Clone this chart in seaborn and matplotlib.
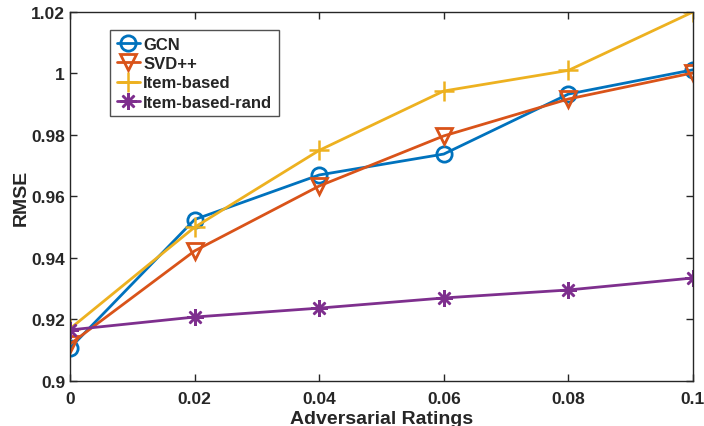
import matplotlib
matplotlib.use("Agg")
import matplotlib.pyplot as plt
import seaborn as sns
import pandas as pd

x_vals = [0, 0.02, 0.04, 0.06, 0.08, 0.1]
gcn = [0.9107, 0.9525, 0.9670, 0.9738, 0.9933, 1.0012]
svdpp = [0.9120, 0.9423, 0.9634, 0.9797, 0.9917, 1.0002]
item_based = [0.9170, 0.9500, 0.9750, 0.9943, 1.0010, 1.0200]
item_rand = [0.9166, 0.9208, 0.9237, 0.9270, 0.9296, 0.9335]
series_names = ["GCN", "SVD++", "Item-based", "Item-based-rand"]
x_ticks = [0, 0.02, 0.04, 0.06, 0.08, 0.1]
x_tick_labels = ["0", "0.02", "0.04", "0.06", "0.08", "0.1"]
y_ticks = [0.9, 0.92, 0.94, 0.96, 0.98, 1.0, 1.02]
y_tick_labels = ["0.9", "0.92", "0.94", "0.96", "0.98", "1", "1.02"]

sns.set_theme(style="white")
plt.rcParams['font.family'] = ['Liberation Sans', 'DejaVu Sans']
plt.rcParams['font.weight'] = 'bold'

fig = plt.figure(figsize=(7.04, 4.27), dpi=100)
ax = fig.add_axes([0.0994, 0.1054, 0.8849, 0.8642])

colors = ["#0072BD", "#D95319", "#EDB120", "#7E2F8E"]
markers = ["o", "v", "+", (8, 2, 0)]
msizes = [11, 12, 14, 12]
data = [gcn, svdpp, item_based, item_rand]
for name, vals, c, m, ms in zip(series_names, data, colors, markers, msizes):
    df = pd.DataFrame({"x": x_vals, "y": vals})
    if m in ("o", "v"):
        kw = dict(markerfacecolor="none", markeredgecolor=c, markeredgewidth=2)
    else:
        kw = dict(markeredgecolor=c, markerfacecolor=c, markeredgewidth=1.8)
    sns.lineplot(data=df, x="x", y="y", ax=ax, color=c, marker=m, markersize=ms,
                 linewidth=2, label=name, **kw)

ax.set_xlim(0, 0.1)
ax.set_ylim(0.9, 1.02)
ax.set_xticks(x_ticks)
ax.set_xticklabels(x_tick_labels)
ax.set_yticks(y_ticks)
ax.set_yticklabels(y_tick_labels)
ax.tick_params(axis="both", direction="in", length=5, width=1, labelsize=12.5,
               top=True, right=True, bottom=True, left=True, colors="#262626")
ax.tick_params(axis="x", pad=7)
for lab in ax.get_xticklabels() + ax.get_yticklabels():
    lab.set_fontweight("bold")
ax.set_xlabel("Adversarial Ratings", fontsize=14, fontweight="bold", labelpad=3)
ax.set_ylabel("RMSE", fontsize=14, fontweight="bold", labelpad=1)
for s in ax.spines.values():
    s.set_color("#262626")
    s.set_linewidth(1)

leg = ax.legend(loc="upper left", bbox_to_anchor=(0.064, 0.95), fontsize=12,
                frameon=True, fancybox=False, handlelength=1.4, handletextpad=0.2,
                borderpad=0.4, labelspacing=0.25, borderaxespad=0)
leg.get_frame().set_edgecolor("#262626")
leg.get_frame().set_linewidth(1)
for t in leg.get_texts():
    t.set_fontweight("bold")

fig.savefig("out.png", dpi=100)
